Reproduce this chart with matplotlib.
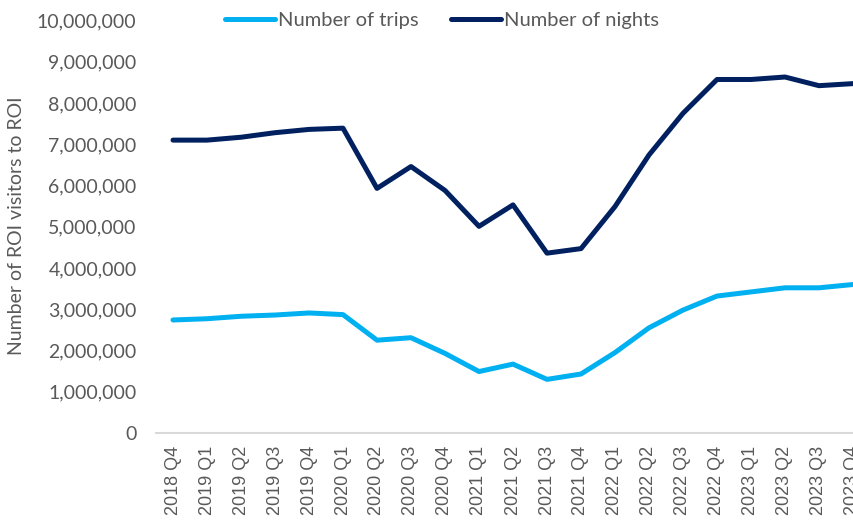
import matplotlib.pyplot as plt
from matplotlib.ticker import FuncFormatter, MultipleLocator

quarters = ['2018 Q4', '2019 Q1', '2019 Q2', '2019 Q3', '2019 Q4',
            '2020 Q1', '2020 Q2', '2020 Q3', '2020 Q4',
            '2021 Q1', '2021 Q2', '2021 Q3', '2021 Q4',
            '2022 Q1', '2022 Q2', '2022 Q3', '2022 Q4',
            '2023 Q1', '2023 Q2', '2023 Q3', '2023 Q4']

trips = [2740000, 2770000, 2830000, 2860000, 2910000,
         2870000, 2250000, 2310000, 1930000,
         1490000, 1670000, 1300000, 1430000,
         1950000, 2550000, 2980000, 3320000,
         3420000, 3520000, 3520000, 3600000]

nights = [7100000, 7100000, 7170000, 7280000, 7360000,
          7390000, 5930000, 6460000, 5880000,
          5010000, 5530000, 4360000, 4470000,
          5490000, 6740000, 7750000, 8570000,
          8570000, 8630000, 8420000, 8470000]

grey = '#595959'

fig = plt.figure(figsize=(8.54, 5.24), dpi=100)
ax = fig.add_axes([156 / 854, 1 - 433 / 524, (870 - 156) / 854, (433 - 20.5) / 524])

x = range(len(quarters))
ax.plot(x, trips, color='#00B0F0', lw=3.6, label='Number of trips', solid_capstyle='round')
ax.plot(x, nights, color='#002060', lw=3.6, label='Number of nights', solid_capstyle='round')

ax.set_xlim(-0.5, len(quarters) - 0.5)
ax.set_ylim(0, 10000000)
ax.yaxis.set_major_locator(MultipleLocator(1000000))
ax.yaxis.set_major_formatter(FuncFormatter(lambda v, p: f'{int(v):,}'))

ax.set_xticks(list(x))
ax.set_xticklabels(quarters, rotation=90, fontsize=13, color=grey, family='Liberation Sans')
for lab in ax.get_yticklabels():
    lab.set_fontfamily('Lato')
    lab.set_fontsize(14)
    lab.set_color(grey)
ax.tick_params(axis='y', length=0, pad=14)
ax.tick_params(axis='x', length=0, pad=9)

for side in ['top', 'right', 'left']:
    ax.spines[side].set_visible(False)
ax.spines['bottom'].set_color('#D9D9D9')
ax.spines['bottom'].set_linewidth(1.5)

fig.text(17 / 854, 1 - 226 / 524, 'Number of ROI visitors to ROI', rotation=90,
         ha='center', va='center', fontsize=14, color=grey, family='Lato')

fig.legend(loc='center', bbox_to_anchor=(442 / 854, 1 - 20 / 524), ncol=2, frameon=False,
           prop={'family': 'Lato', 'size': 14.5}, labelcolor=grey,
           handlelength=2.5, handletextpad=0.15, columnspacing=1.6)

fig.savefig('out.png', dpi=100)
